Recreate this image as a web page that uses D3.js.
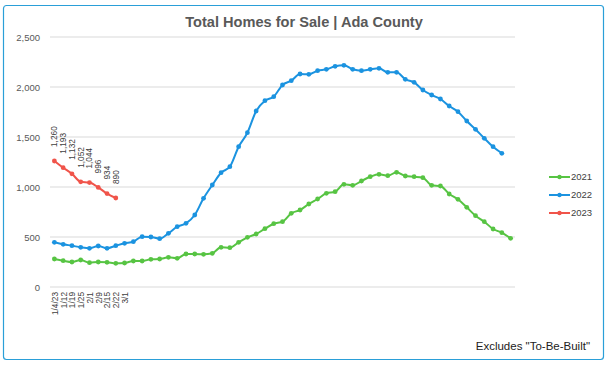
<!DOCTYPE html>
<html>
<head>
<meta charset="utf-8">
<script src="https://cdn.jsdelivr.net/npm/d3@7"></script>
<style>
  html, body { margin: 0; padding: 0; background: #fff; }
  svg { display: block; font-family: "Liberation Sans", Arial, Helvetica, sans-serif; }
</style>
</head>
<body>
<svg id="chart" width="609" height="365"></svg>
<script>
// ---- data ----
const xLabels = ["1/4/23","1/12","1/19","1/25","2/1","2/9","2/15","2/22","3/1"];
const weekCount = 53;
const values2021 = [280,263,250,270,243,250,247,237,240,260,
                    260,277,280,297,287,330,330,327,337,397,
                    393,447,497,530,583,633,653,737,770,830,
                    880,937,953,1027,1017,1060,1103,1127,1113,1147,
                    1110,1103,1093,1017,1010,930,877,797,713,653,
                    580,543,487];
const values2022 = [447,427,413,397,387,410,387,413,437,453,
                    503,500,483,537,603,637,720,887,1020,1143,
                    1203,1403,1543,1760,1863,1903,2020,2063,2130,2127,
                    2163,2177,2207,2217,2177,2163,2177,2187,2147,2147,
                    2077,2047,1970,1920,1880,1810,1753,1660,1577,1487,
                    1403,1337];
const values2023 = [1260,1193,1132,1052,1044,996,934,890];
const seriesNames = ["2021","2022","2023"];
const seriesColors = ["#57c443","#1b93e0","#f0544a"];
const yTicks = [0,500,1000,1500,2000,2500];
const titleText = "Total Homes for Sale | Ada County";
const noteText = "Excludes \"To-Be-Built\"";

// ---- layout ----
(function () {
const svg = d3.select("#chart");
const pLeft = 50, pRight = 515, pTop = 37, pBottom = 287;

svg.append("rect")
  .attr("x", 3.5).attr("y", 5.5).attr("width", 600).attr("height", 354)
  .attr("rx", 3).attr("fill", "#fff").attr("stroke", "#2a9fd8").attr("stroke-width", 1.2);

const x = d3.scalePoint().domain(d3.range(weekCount)).range([pLeft, pRight]).padding(0.5);
const y = d3.scaleLinear().domain([0, 2500]).range([pBottom, pTop]);

// gridlines
svg.append("g").selectAll("line").data(yTicks).join("line")
  .attr("x1", pLeft).attr("x2", pRight)
  .attr("y1", d => y(d)).attr("y2", d => y(d))
  .attr("stroke", "#d9d9d9").attr("stroke-width", 1);

// y axis
const yAxis = svg.append("g").attr("transform", `translate(${pLeft - 7},0)`)
  .call(d3.axisLeft(y).tickValues(yTicks).tickFormat(d3.format(",")).tickSize(0));
yAxis.select(".domain").remove();
yAxis.selectAll("text").attr("fill", "#595959").attr("font-size", 9.5)
  .attr("font-family", "Liberation Sans, Arial, sans-serif");

// x axis
const xAxis = svg.append("g").attr("transform", `translate(0,${pBottom + 5})`)
  .call(d3.axisBottom(x).tickFormat(i => xLabels[i] || "").tickSize(0));
xAxis.select(".domain").remove();
xAxis.selectAll("text")
  .attr("transform", "rotate(-90)")
  .attr("text-anchor", "end")
  .attr("x", 0).attr("y", 0).attr("dx", 0).attr("dy", "0.35em")
  .attr("fill", "#404040").attr("font-size", 8.3)
  .attr("font-family", "Liberation Sans, Arial, sans-serif");

// series
const allSeries = [values2021, values2022, values2023];
const line = d3.line().x((d, i) => x(i)).y(d => y(d)).curve(d3.curveMonotoneX);
allSeries.forEach((vals, s) => {
  const g = svg.append("g");
  g.append("path").datum(vals).attr("d", line)
    .attr("fill", "none").attr("stroke", seriesColors[s]).attr("stroke-width", 2);
  g.selectAll("circle").data(vals).join("circle")
    .attr("cx", (d, i) => x(i)).attr("cy", d => y(d)).attr("r", 2.4)
    .attr("fill", seriesColors[s]);
});

// data labels for 2023
svg.append("g").selectAll("text").data(values2023).join("text")
  .attr("transform", (d, i) => `translate(${x(i)},${y(d) - 14}) rotate(-90)`)
  .attr("text-anchor", "start").attr("dy", "0.35em")
  .attr("fill", "#404040").attr("font-size", 8.3)
  .text(d => d3.format(",")(d));

// title
svg.append("text").attr("x", 304).attr("y", 27).attr("text-anchor", "middle")
  .attr("font-size", 14.6).attr("font-weight", "bold").attr("fill", "#595959")
  .text(titleText);

// legend
const lg = svg.append("g");
seriesNames.forEach((name, i) => {
  const ly = 177 + i * 18;
  lg.append("line").attr("x1", 549).attr("x2", 570).attr("y1", ly).attr("y2", ly)
    .attr("stroke", seriesColors[i]).attr("stroke-width", 2);
  lg.append("circle").attr("cx", 559.5).attr("cy", ly).attr("r", 2.2).attr("fill", seriesColors[i]);
  lg.append("text").attr("x", 571).attr("y", ly).attr("dy", "0.35em")
    .attr("font-size", 9.5).attr("fill", "#404040").text(name);
});

// note
svg.append("text").attr("x", 590).attr("y", 350).attr("text-anchor", "end")
  .attr("font-size", 11.5).attr("fill", "#222").text(noteText);
})();
</script>
</body>
</html>
